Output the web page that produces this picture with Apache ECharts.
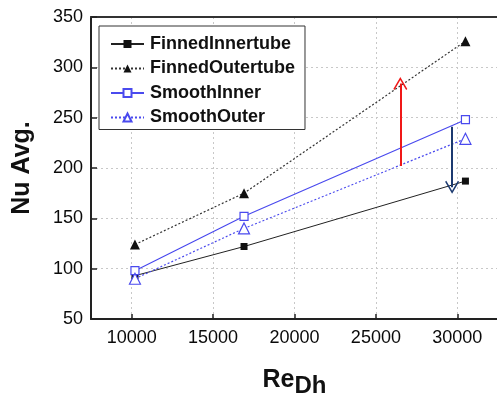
<!DOCTYPE html>
<html>
<head>
<meta charset="utf-8">
<script src="https://cdn.jsdelivr.net/npm/echarts@6/dist/echarts.min.js"></script>
<style>html,body{margin:0;padding:0;background:#fff;}#c{width:497px;height:398px;}</style>
</head>
<body>
<div id="c"></div>
<script>
var reynolds = [10200, 16900, 30500];
var finnedInner = [93, 122, 187];
var finnedOuter = [124, 175, 326];
var smoothInner = [98, 152, 248];
var smoothOuter = [90, 140, 229];
var xTicks = [10000, 15000, 20000, 25000, 30000];
var yTicks = [50, 100, 150, 200, 250, 300, 350];
var seriesNames = ['FinnedInnertube', 'FinnedOutertube', 'SmoothInner', 'SmoothOuter'];
var redArrow = [[26500, 202], [26500, 284]];
var navyArrow = [[29680, 241], [29680, 181]];

function pairs(ys) { return reynolds.map(function (x, i) { return [x, ys[i]]; }); }
var chevron = 'path://M7,0 L14,12 L12.8,13 L7,3 L1.2,13 L0,12 Z';
var font = 'Arial, "Liberation Sans", sans-serif';
var blue = '#4a4aee';

var chart = echarts.init(document.getElementById('c'), null, { renderer: 'canvas' });
chart.setOption({
  animation: false,
  backgroundColor: '#fff',
  grid: { left: 91, right: -1, top: 17, bottom: 79, containLabel: false, outerBoundsMode: 'none' },
  legend: {
    data: seriesNames,
    orient: 'vertical',
    left: 99, top: 26,
    padding: [9, 10, 3, 11],
    itemWidth: 33, itemHeight: 10, itemGap: 6.5,
    borderColor: '#333', borderWidth: 1,
    backgroundColor: '#fff',
    textStyle: { fontFamily: font, fontSize: 18, fontWeight: 'bold', color: '#111', padding: [0, 0, 0, 1] }
  },
  xAxis: [{
    type: 'value', min: 7500, max: 32500, interval: 2500,
    name: '{a|Re}{b|Dh}', nameLocation: 'middle', nameGap: 49,
    nameTextStyle: {
      rich: {
        a: { fontFamily: font, fontSize: 25, fontWeight: 'bold', color: '#111', verticalAlign: 'top', lineHeight: 30 },
        b: { fontFamily: font, fontSize: 24, fontWeight: 'bold', color: '#111', verticalAlign: 'bottom', lineHeight: 30, padding: [10, 0, 0, 0] }
      }
    },
    axisLine: { lineStyle: { color: '#222', width: 2 } },
    axisTick: { inside: true, length: 5, customValues: xTicks, lineStyle: { color: '#222', width: 1.5 } },
    axisLabel: { customValues: xTicks, formatter: function (v) { return String(v); }, fontFamily: font, fontSize: 18, color: '#0a0a0a', margin: 10 },
    splitLine: { show: true, lineStyle: { color: '#c8c8c8', type: [2, 3], width: 1 } }
  }, {
    type: 'value', min: 7500, max: 32500, position: 'top',
    axisLine: { show: true, lineStyle: { color: '#333', width: 2 } },
    axisTick: { show: false }, axisLabel: { show: false }, splitLine: { show: false }
  }],
  yAxis: {
    type: 'value', min: 50, max: 350, interval: 50,
    name: 'Nu Avg.', nameLocation: 'middle', nameGap: 56,
    nameTextStyle: { fontFamily: font, fontSize: 25, fontWeight: 'bold', color: '#111' },
    axisLine: { show: true, lineStyle: { color: '#222', width: 2 } },
    axisTick: { show: true, inside: true, length: 6, lineStyle: { color: '#222', width: 1.5 } },
    axisLabel: { fontFamily: font, fontSize: 18, color: '#0a0a0a', margin: 8 },
    splitLine: { show: true, lineStyle: { color: '#c8c8c8', type: [2, 3], width: 1 } }
  },
  series: [
    { name: seriesNames[0], type: 'line', data: pairs(finnedInner), symbol: 'rect', symbolSize: 7,
      itemStyle: { color: '#111' }, lineStyle: { color: '#222', width: 1 } },
    { name: seriesNames[1], type: 'line', data: pairs(finnedOuter), symbol: 'triangle', symbolSize: 10,
      itemStyle: { color: '#111' }, lineStyle: { color: '#333', width: 1.2, type: [2, 2] } },
    { name: seriesNames[2], type: 'line', data: pairs(smoothInner), symbol: 'rect', symbolSize: 8,
      itemStyle: { color: '#fff', borderColor: blue, borderWidth: 1.2 }, lineStyle: { color: blue, width: 1.2 } },
    { name: seriesNames[3], type: 'line', data: pairs(smoothOuter), symbol: 'triangle', symbolSize: 11,
      itemStyle: { color: '#fff', borderColor: blue, borderWidth: 1.2 }, lineStyle: { color: blue, width: 1.2, type: [2, 2] } },
    { name: 'arrows', type: 'line', data: [], silent: true,
      markLine: {
        silent: true, animation: false,
        symbol: ['none', chevron], symbolSize: [14, 13],
        label: { show: false },
        data: [
          [{ coord: redArrow[0], lineStyle: { color: '#f01818', width: 2, type: 'solid' } }, { coord: redArrow[1] }],
          [{ coord: navyArrow[0], lineStyle: { color: '#1c3a70', width: 2, type: 'solid' } }, { coord: navyArrow[1] }]
        ]
      }
    }
  ]
});
</script>
</body>
</html>
